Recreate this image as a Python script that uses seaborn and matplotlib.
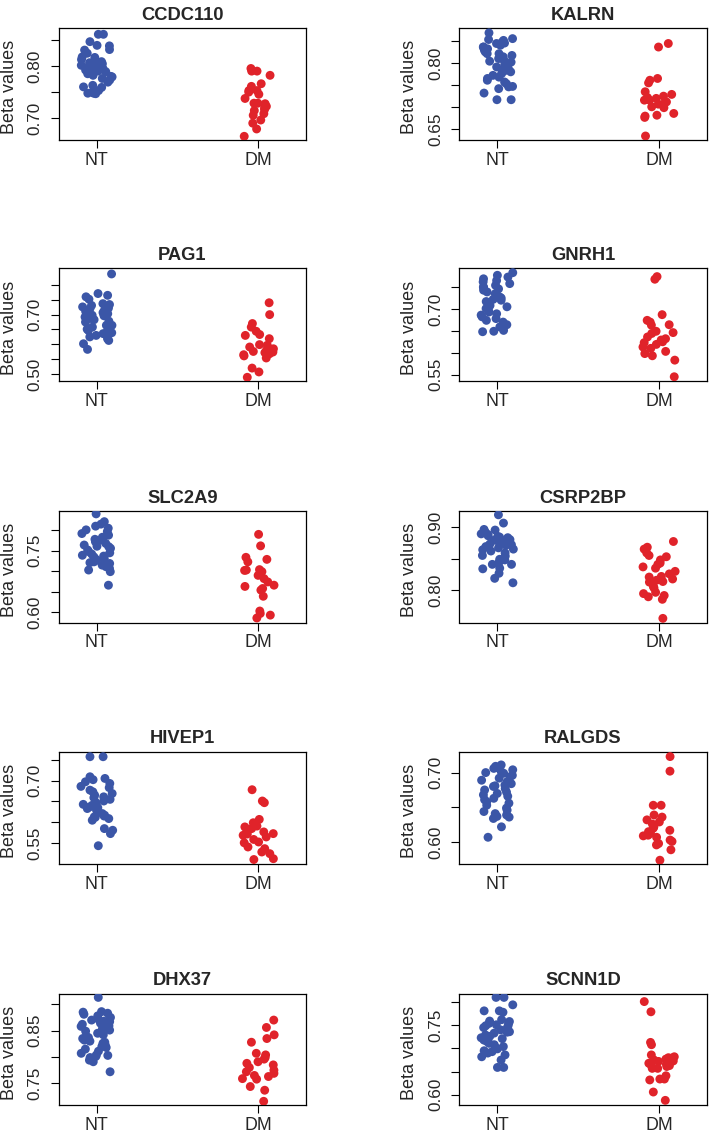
import numpy as np
import pandas as pd
import matplotlib
matplotlib.use("Agg")
import matplotlib.pyplot as plt
import seaborn as sns

# genes in reading order (row by row, left then right)
genes = ['CCDC110', 'KALRN', 'PAG1', 'GNRH1', 'SLC2A9',
         'CSRP2BP', 'HIVEP1', 'RALGDS', 'DHX37', 'SCNN1D']
groups = ['NT', 'DM']

# beta values
nt_values = {
    'CCDC110': [0.860, 0.860, 0.846, 0.839, 0.838, 0.831, 0.830, 0.824, 0.817, 0.816, 0.812,
                0.811, 0.808, 0.806, 0.804, 0.803, 0.801, 0.800, 0.799, 0.798, 0.796, 0.795,
                0.794, 0.792, 0.790, 0.789, 0.787, 0.785, 0.782, 0.780, 0.779, 0.776, 0.773,
                0.769, 0.763, 0.760, 0.759, 0.753, 0.750, 0.748, 0.748, 0.747],
    'KALRN': [0.868, 0.855, 0.853, 0.851, 0.847, 0.845, 0.844, 0.840, 0.836, 0.836, 0.832,
              0.830, 0.829, 0.825, 0.821, 0.821, 0.817, 0.814, 0.810, 0.806, 0.804, 0.802,
              0.798, 0.795, 0.791, 0.787, 0.783, 0.780, 0.780, 0.776, 0.772, 0.768, 0.765,
              0.761, 0.757, 0.753, 0.747, 0.746, 0.742, 0.732, 0.717, 0.717],
    'PAG1': [0.837, 0.771, 0.765, 0.760, 0.752, 0.737, 0.734, 0.731, 0.726, 0.722, 0.720,
             0.715, 0.711, 0.707, 0.703, 0.700, 0.698, 0.696, 0.692, 0.687, 0.683, 0.678,
             0.675, 0.670, 0.664, 0.664, 0.658, 0.651, 0.647, 0.644, 0.639, 0.636, 0.630,
             0.625, 0.619, 0.613, 0.602, 0.583],
    'GNRH1': [0.783, 0.777, 0.773, 0.769, 0.765, 0.762, 0.758, 0.754, 0.750, 0.750, 0.746,
              0.743, 0.739, 0.735, 0.731, 0.727, 0.725, 0.722, 0.720, 0.717, 0.708, 0.705,
              0.701, 0.697, 0.693, 0.689, 0.686, 0.682, 0.678, 0.674, 0.670, 0.664, 0.659,
              0.651, 0.649, 0.648],
    'SLC2A9': [0.840, 0.821, 0.815, 0.810, 0.805, 0.801, 0.797, 0.792, 0.788, 0.783, 0.778,
               0.776, 0.772, 0.768, 0.764, 0.761, 0.760, 0.756, 0.752, 0.748, 0.745, 0.742,
               0.739, 0.737, 0.735, 0.731, 0.729, 0.727, 0.723, 0.721, 0.719, 0.715, 0.711,
               0.707, 0.703, 0.699, 0.666],
    'CSRP2BP': [0.919, 0.906, 0.896, 0.895, 0.893, 0.891, 0.889, 0.888, 0.886, 0.885, 0.884,
                0.883, 0.881, 0.880, 0.879, 0.877, 0.876, 0.875, 0.873, 0.872, 0.871, 0.869,
                0.867, 0.865, 0.864, 0.862, 0.859, 0.855, 0.854, 0.849, 0.848, 0.844, 0.841,
                0.841, 0.835, 0.834, 0.827, 0.819, 0.812],
    'HIVEP1': [0.757, 0.757, 0.709, 0.705, 0.702, 0.697, 0.693, 0.686, 0.683, 0.677, 0.673,
               0.669, 0.665, 0.661, 0.659, 0.655, 0.651, 0.647, 0.643, 0.641, 0.639, 0.637,
               0.635, 0.633, 0.629, 0.625, 0.621, 0.617, 0.615, 0.613, 0.612, 0.609, 0.605,
               0.585, 0.581, 0.573, 0.544],
    'RALGDS': [0.711, 0.709, 0.707, 0.706, 0.704, 0.701, 0.700, 0.699, 0.696, 0.694, 0.692,
               0.689, 0.687, 0.684, 0.682, 0.681, 0.680, 0.677, 0.675, 0.672, 0.670, 0.668,
               0.666, 0.663, 0.661, 0.658, 0.656, 0.653, 0.649, 0.646, 0.644, 0.641, 0.639,
               0.637, 0.636, 0.634, 0.622, 0.607],
    'DHX37': [0.913, 0.886, 0.885, 0.883, 0.881, 0.878, 0.875, 0.872, 0.870, 0.868, 0.867,
              0.864, 0.862, 0.859, 0.858, 0.854, 0.851, 0.849, 0.845, 0.842, 0.839, 0.837,
              0.835, 0.834, 0.832, 0.830, 0.828, 0.826, 0.823, 0.820, 0.818, 0.815, 0.811,
              0.807, 0.804, 0.803, 0.801, 0.799, 0.794, 0.791, 0.772],
    'SCNN1D': [0.810, 0.810, 0.794, 0.781, 0.781, 0.778, 0.762, 0.759, 0.758, 0.754, 0.752,
               0.751, 0.749, 0.747, 0.745, 0.742, 0.740, 0.736, 0.735, 0.733, 0.729, 0.726,
               0.723, 0.721, 0.718, 0.715, 0.711, 0.708, 0.704, 0.702, 0.699, 0.695, 0.693,
               0.690, 0.686, 0.682, 0.675, 0.659, 0.659],
}

dm_values = {
    'CCDC110': [0.795, 0.790, 0.790, 0.782, 0.766, 0.761, 0.757, 0.753, 0.753, 0.750, 0.746,
                0.738, 0.729, 0.729, 0.728, 0.723, 0.720, 0.717, 0.715, 0.709, 0.706, 0.697,
                0.691, 0.680, 0.666],
    'KALRN': [0.844, 0.836, 0.765, 0.761, 0.755, 0.735, 0.729, 0.725, 0.722, 0.720, 0.716,
              0.716, 0.712, 0.708, 0.707, 0.701, 0.699, 0.686, 0.682, 0.680, 0.677, 0.635],
    'PAG1': [0.740, 0.700, 0.670, 0.658, 0.644, 0.633, 0.630, 0.619, 0.599, 0.597, 0.591,
             0.585, 0.580, 0.576, 0.574, 0.572, 0.568, 0.565, 0.561, 0.554, 0.520, 0.507,
             0.489],
    'GNRH1': [0.774, 0.768, 0.687, 0.674, 0.670, 0.664, 0.663, 0.649, 0.646, 0.644, 0.636,
              0.632, 0.629, 0.625, 0.623, 0.619, 0.613, 0.610, 0.603, 0.598, 0.593, 0.583,
              0.545],
    'SLC2A9': [0.790, 0.762, 0.734, 0.729, 0.723, 0.704, 0.703, 0.702, 0.699, 0.690, 0.682,
               0.674, 0.666, 0.663, 0.658, 0.654, 0.639, 0.603, 0.597, 0.593, 0.586],
    'CSRP2BP': [0.877, 0.868, 0.865, 0.859, 0.855, 0.853, 0.848, 0.843, 0.841, 0.837, 0.835,
                0.830, 0.826, 0.822, 0.821, 0.818, 0.816, 0.814, 0.813, 0.806, 0.804, 0.797,
                0.795, 0.792, 0.790, 0.786, 0.756],
    'HIVEP1': [0.678, 0.651, 0.647, 0.607, 0.599, 0.591, 0.589, 0.585, 0.583, 0.577, 0.573,
               0.572, 0.569, 0.565, 0.559, 0.553, 0.551, 0.541, 0.537, 0.529, 0.525, 0.513,
               0.511],
    'RALGDS': [0.723, 0.702, 0.653, 0.653, 0.639, 0.636, 0.632, 0.629, 0.626, 0.622, 0.620,
               0.617, 0.615, 0.613, 0.610, 0.609, 0.607, 0.603, 0.601, 0.598, 0.596, 0.589,
               0.574],
    'DHX37': [0.870, 0.856, 0.842, 0.835, 0.828, 0.807, 0.804, 0.799, 0.796, 0.791, 0.788,
              0.785, 0.780, 0.775, 0.772, 0.769, 0.765, 0.763, 0.759, 0.758, 0.744, 0.737,
              0.716],
    'SCNN1D': [0.801, 0.779, 0.713, 0.708, 0.686, 0.682, 0.680, 0.679, 0.677, 0.675, 0.673,
               0.672, 0.668, 0.666, 0.664, 0.663, 0.661, 0.657, 0.657, 0.641, 0.634, 0.634,
               0.632, 0.606, 0.588],
}

# axis ranges and ticks per panel
y_limits = {
    'CCDC110': (0.659, 0.872), 'KALRN': (0.626, 0.879), 'PAG1': (0.4775, 0.856),
    'GNRH1': (0.536, 0.793), 'SLC2A9': (0.575, 0.847), 'CSRP2BP': (0.7495, 0.925),
    'HIVEP1': (0.501, 0.769), 'RALGDS': (0.569, 0.730), 'DHX37': (0.709, 0.920),
    'SCNN1D': (0.578, 0.818),
}
y_ticks = {
    'CCDC110': [0.70, 0.75, 0.80, 0.85], 'KALRN': [0.65, 0.70, 0.75, 0.80, 0.85],
    'PAG1': [0.50, 0.55, 0.60, 0.65, 0.70, 0.75, 0.80], 'GNRH1': [0.55, 0.60, 0.65, 0.70, 0.75],
    'SLC2A9': [0.60, 0.65, 0.70, 0.75, 0.80], 'CSRP2BP': [0.80, 0.85, 0.90],
    'HIVEP1': [0.55, 0.60, 0.65, 0.70, 0.75], 'RALGDS': [0.60, 0.65, 0.70],
    'DHX37': [0.75, 0.80, 0.85, 0.90], 'SCNN1D': [0.60, 0.65, 0.70, 0.75, 0.80],
}
y_labelled = {
    'CCDC110': [0.70, 0.80], 'KALRN': [0.65, 0.80], 'PAG1': [0.50, 0.70],
    'GNRH1': [0.55, 0.70], 'SLC2A9': [0.60, 0.75], 'CSRP2BP': [0.80, 0.90],
    'HIVEP1': [0.55, 0.70], 'RALGDS': [0.60, 0.70], 'DHX37': [0.75, 0.85],
    'SCNN1D': [0.60, 0.75],
}

palette = {'NT': '#3b56a7', 'DM': '#e0232a'}

sns.set_style('ticks')
plt.rcParams['font.family'] = ['Liberation Sans', 'DejaVu Sans']

W, H = 709, 1133
fig = plt.figure(figsize=(W / 100, H / 100), dpi=100)

# panel boxes in pixels: left x of each column, top/bottom of each row
col_x = [58.7, 459.3]
box_w = 247.4
row_y = [(28, 140), (268.3, 380.7), (511, 622.5), (751.7, 863.7), (993.7, 1105)]

np.random.seed(3)

for i, gene in enumerate(genes):
    r, c = divmod(i, 2)
    top, bot = row_y[r]
    ax = fig.add_axes([col_x[c] / W, 1 - bot / H, box_w / W, (bot - top) / H])

    df = pd.DataFrame({
        'group': ['NT'] * len(nt_values[gene]) + ['DM'] * len(dm_values[gene]),
        'value': nt_values[gene] + dm_values[gene],
    })
    sns.stripplot(data=df, x='group', y='value', hue='group', order=groups,
                  palette=palette, jitter=0.1, size=6.4, linewidth=0,
                  legend=False, ax=ax)

    ax.set_xlim(-0.235, 1.295)
    ax.set_ylim(*y_limits[gene])
    ax.set_yticks(y_ticks[gene])
    ax.set_yticklabels([f'{t:.2f}' if t in y_labelled[gene] else '' for t in y_ticks[gene]],
                       rotation=90, va='center', ha='right', fontsize=12.3)
    ax.set_xticks([0, 1])
    ax.set_xticklabels(groups, fontsize=12.8)
    ax.tick_params(axis='both', direction='out', length=5.5, width=0.8, color='black')
    ax.tick_params(axis='y', pad=6)
    ax.tick_params(axis='x', pad=3)

    for s in ax.spines.values():
        s.set_visible(True)
        s.set_linewidth(0.9)
        s.set_color('black')

    ax.set_xlabel('')
    ax.set_ylabel('Beta values', fontsize=13, va='center')
    ax.yaxis.set_label_coords(-0.2, 0.47)
    ax.set_title(gene, fontsize=13.2, fontweight='bold', pad=6)

fig.savefig('out.png', dpi=100)
